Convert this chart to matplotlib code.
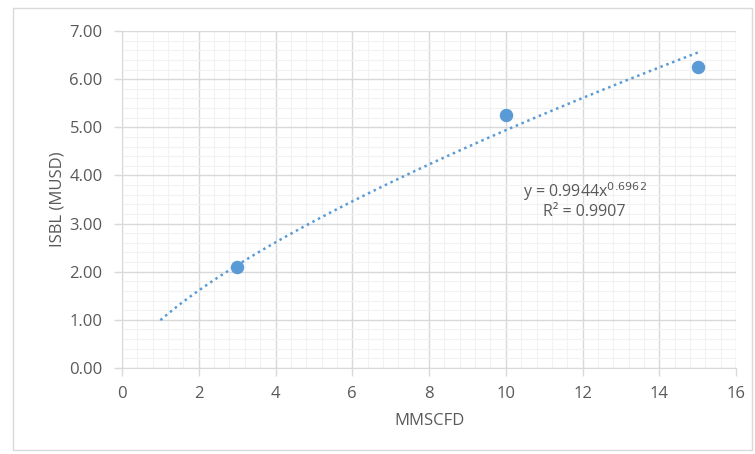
import numpy as np
import matplotlib
matplotlib.use("Agg")
import matplotlib.pyplot as plt
from matplotlib.ticker import MultipleLocator, FormatStrFormatter
from matplotlib.patches import Rectangle

# Plant capacity vs. inside-battery-limits cost
mmscfd = [3, 10, 15]
isbl_musd = [2.10, 5.25, 6.25]

# Power-law trendline y = a * x^b
fit_a = 0.9944
fit_b = 0.6962
fit_r2 = 0.9907
fit_x_start, fit_x_end = 1, 15

plt.rcParams["font.family"] = ["Open Sans", "DejaVu Sans"]
text_col = "#595959"
grid_col = "#D9D9D9"
blue = "#5B9BD5"

fig = plt.figure(figsize=(7.55, 4.54), dpi=100)
fig.patches.append(Rectangle((13 / 755, 1 - 450 / 454), 739 / 755, 442 / 454,
                             transform=fig.transFigure, fill=False,
                             edgecolor=grid_col, linewidth=1.0))
ax = fig.add_axes([0.1616, 0.1894, 0.8134, 0.7423])

ax.set_xlim(0, 16)
ax.set_ylim(0, 7)
ax.xaxis.set_major_locator(MultipleLocator(2))
ax.xaxis.set_minor_locator(MultipleLocator(0.4))
ax.yaxis.set_major_locator(MultipleLocator(1))
ax.yaxis.set_minor_locator(MultipleLocator(0.2))
ax.yaxis.set_major_formatter(FormatStrFormatter("%.2f"))

ax.grid(which="major", color=grid_col, linewidth=1.0)
ax.grid(which="minor", color="#F2F2F2", linewidth=0.8)
ax.set_axisbelow(True)
for side in ["top", "right"]:
    ax.spines[side].set_visible(False)
ax.spines["bottom"].set_color(grid_col)
ax.spines["left"].set_color(grid_col)
ax.tick_params(which="minor", length=0)
ax.tick_params(which="major", length=6, color=grid_col, width=1.0,
               colors=text_col, labelsize=12)
ax.tick_params(axis="x", which="major", pad=7)
ax.tick_params(axis="y", which="major", pad=8)
ax.tick_params(axis="both", which="major", color=grid_col)

xs = np.linspace(fit_x_start, fit_x_end, 200)
ax.plot(xs, fit_a * xs ** fit_b, linestyle=(0, (1, 1.5)), color=blue, linewidth=1.8)
ax.scatter(mmscfd, isbl_musd, s=75, color=blue, zorder=3)

ax.text(12.05, 3.66, f"y = {fit_a}x$^{{{fit_b}}}$", ha="center", va="center",
        color=text_col, fontsize=11.5)
ax.text(12.05, 3.24, f"R\u00b2 = {fit_r2}", ha="center", va="center",
        color=text_col, fontsize=11.5)

ax.set_xlabel("MMSCFD", color=text_col, fontsize=12, labelpad=8)
ax.set_ylabel("ISBL (MUSD)", color=text_col, fontsize=12, labelpad=3)

fig.savefig("out.png", dpi=100)
